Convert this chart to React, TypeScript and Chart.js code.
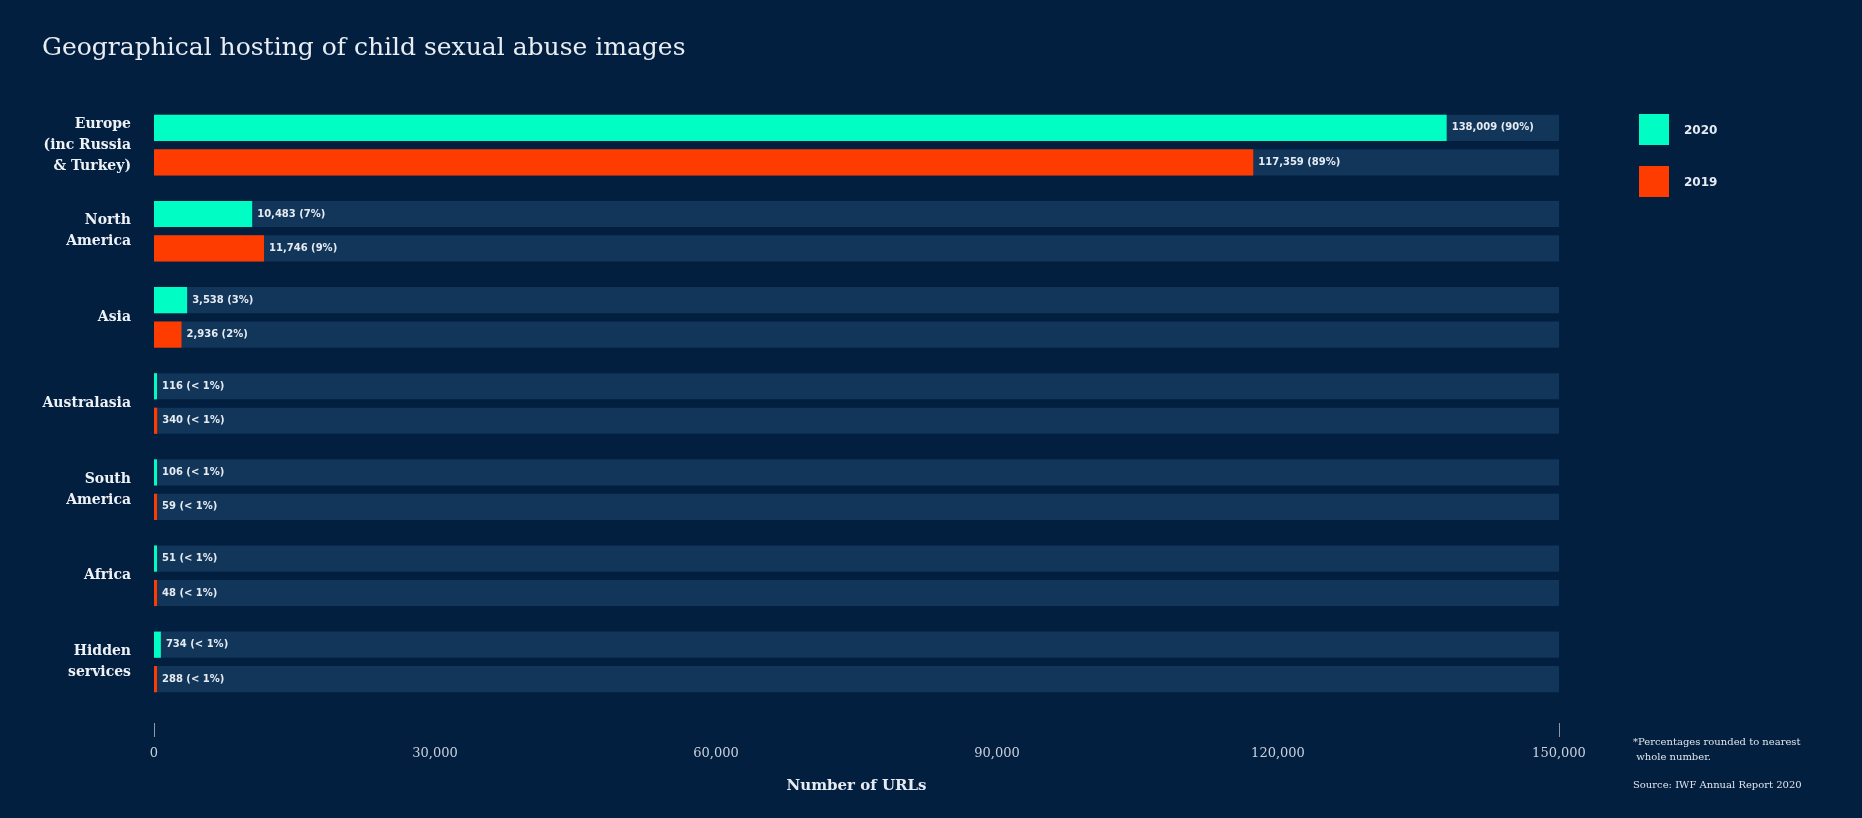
import React, { useEffect, useRef } from "react";
import { Chart, registerables } from "chart.js";

Chart.register(...registerables);

const regions: string[][] = [
  ["Europe", "(inc Russia", "& Turkey)"],
  ["North", "America"],
  ["Asia"],
  ["Australasia"],
  ["South", "America"],
  ["Africa"],
  ["Hidden", "services"],
];
const values2020 = [138009, 10483, 3538, 116, 106, 51, 734];
const values2019 = [117359, 11746, 2936, 340, 59, 48, 288];
const pct2020 = ["90%", "7%", "3%", "< 1%", "< 1%", "< 1%", "< 1%"];
const pct2019 = ["89%", "9%", "2%", "< 1%", "< 1%", "< 1%", "< 1%"];
const trackValues = [150000, 150000, 150000, 150000, 150000, 150000, 150000];
const xTicks = [0, 30000, 60000, 90000, 120000, 150000];
const edgeTicks = [0, 150000];
const seriesNames = ["2020", "2019"];

const BG = "#021f40";
const TRACK = "#12355a";
const TEAL = "#00fdc3";
const RED = "#ff3c00";

const valueLabels = {
  id: "valueLabels",
  afterDatasetsDraw(chart: any) {
    const ctx = chart.ctx;
    ctx.save();
    ctx.font = "bold 10px 'DejaVu Sans'";
    ctx.fillStyle = "#e6ebf2";
    ctx.textBaseline = "middle";
    ctx.textAlign = "left";
    [0, 1].forEach((di) => {
      const meta = chart.getDatasetMeta(di);
      const vals = di === 0 ? values2020 : values2019;
      const pcts = di === 0 ? pct2020 : pct2019;
      meta.data.forEach((el: any, i: number) => {
        const txt = vals[i].toLocaleString("en-US") + " (" + pcts[i] + ")";
        ctx.fillText(txt, el.x + 5, el.y);
      });
    });
    // small tick marks under the axis ends
    const xs = chart.scales.x;
    const y0 = chart.chartArea.bottom + 18;
    ctx.strokeStyle = "#8d99aa";
    ctx.lineWidth = 1;
    edgeTicks.forEach((v) => {
      const px = Math.round(xs.getPixelForValue(v)) + 0.5;
      ctx.beginPath();
      ctx.moveTo(px, y0);
      ctx.lineTo(px, y0 + 14);
      ctx.stroke();
    });
    ctx.restore();
  },
};

export default function App() {
  const ref = useRef<HTMLCanvasElement>(null);
  useEffect(() => {
    if (!ref.current) return;
    const common = { categoryPercentage: 0.8, barPercentage: 0.76, borderWidth: 0 };
    const chart = new Chart(ref.current, {
      type: "bar",
      data: {
        labels: regions as any,
        datasets: [
          { label: seriesNames[0], data: values2020, backgroundColor: TEAL, stack: "a", order: 1, minBarLength: 3, ...common },
          { label: seriesNames[1], data: values2019, backgroundColor: RED, stack: "b", order: 1, minBarLength: 3, ...common },
          { label: "t1", data: trackValues, backgroundColor: TRACK, stack: "a", order: 2, ...common },
          { label: "t2", data: trackValues, backgroundColor: TRACK, stack: "b", order: 2, ...common },
        ] as any,
      },
      options: {
        indexAxis: "y",
        responsive: false,
        animation: false,
        devicePixelRatio: 1,
        layout: { padding: { top: 102, right: 303, bottom: 0, left: 0 } },
        plugins: { legend: { display: false }, tooltip: { enabled: false }, title: { display: false } },
        scales: {
          x: {
            stacked: false,
            min: 0,
            max: 150000,
            afterBuildTicks: (scale: any) => {
              scale.ticks = xTicks.map((v) => ({ value: v }));
            },
            afterFit: (scale: any) => {
              scale.height = 113;
            },
            grid: { display: false, drawTicks: false },
            border: { display: false },
            ticks: {
              padding: 41,
              color: "#c9d0da",
              font: { family: "'DejaVu Serif'", size: 13 },
              callback: (v: any) => Number(v).toLocaleString("en-US"),
            },
            title: {
              display: true,
              text: "Number of URLs",
              color: "#e6ebf2",
              font: { family: "'DejaVu Serif'", size: 15, weight: "bold" },
              padding: { top: 0, bottom: 23 },
            },
          },
          y: {
            type: "category",
            position: "left",
            offset: true,
            afterFit: (scale: any) => {
              scale.width = 154;
            },
            grid: { display: false, drawTicks: false },
            border: { display: false },
            ticks: {
              padding: 23,
              color: "#eef1f5",
              font: { family: "'DejaVu Serif'", size: 14, weight: "bold", lineHeight: 1.5 },
            },
          },
        },
      } as any,
      plugins: [valueLabels],
    });
    return () => chart.destroy();
  }, []);

  return (
    <div style={{ position: "absolute", left: 0, top: 0, width: 1862, height: 818, background: BG, overflow: "hidden" }}>
      <canvas ref={ref} width={1862} height={818} style={{ position: "absolute", left: 0, top: 0 }} />
      <div
        style={{
          position: "absolute",
          left: 42,
          top: 32,
          fontFamily: "'DejaVu Serif'",
          fontSize: 25,
          color: "#e9edf2",
          whiteSpace: "nowrap",
        }}
      >
        Geographical hosting of child sexual abuse images
      </div>
      {seriesNames.map((name, i) => (
        <div key={name} style={{ position: "absolute", left: 1639, top: 114 + i * 52, display: "flex", alignItems: "center" }}>
          <div style={{ width: 30, height: 31, background: i === 0 ? TEAL : RED }} />
          <span style={{ marginLeft: 15, fontFamily: "'DejaVu Sans'", fontSize: 12, fontWeight: "bold", color: "#e6ebf2" }}>{name}</span>
        </div>
      ))}
      <div
        style={{
          position: "absolute",
          left: 1633,
          top: 734,
          fontFamily: "'DejaVu Serif'",
          fontSize: 10,
          lineHeight: "15px",
          color: "#dfe4ea",
          whiteSpace: "nowrap",
        }}
      >
        *Percentages rounded to nearest
        <br />
        &nbsp;whole number.
        <div style={{ marginTop: 13 }}>Source: IWF Annual Report 2020</div>
      </div>
    </div>
  );
}
